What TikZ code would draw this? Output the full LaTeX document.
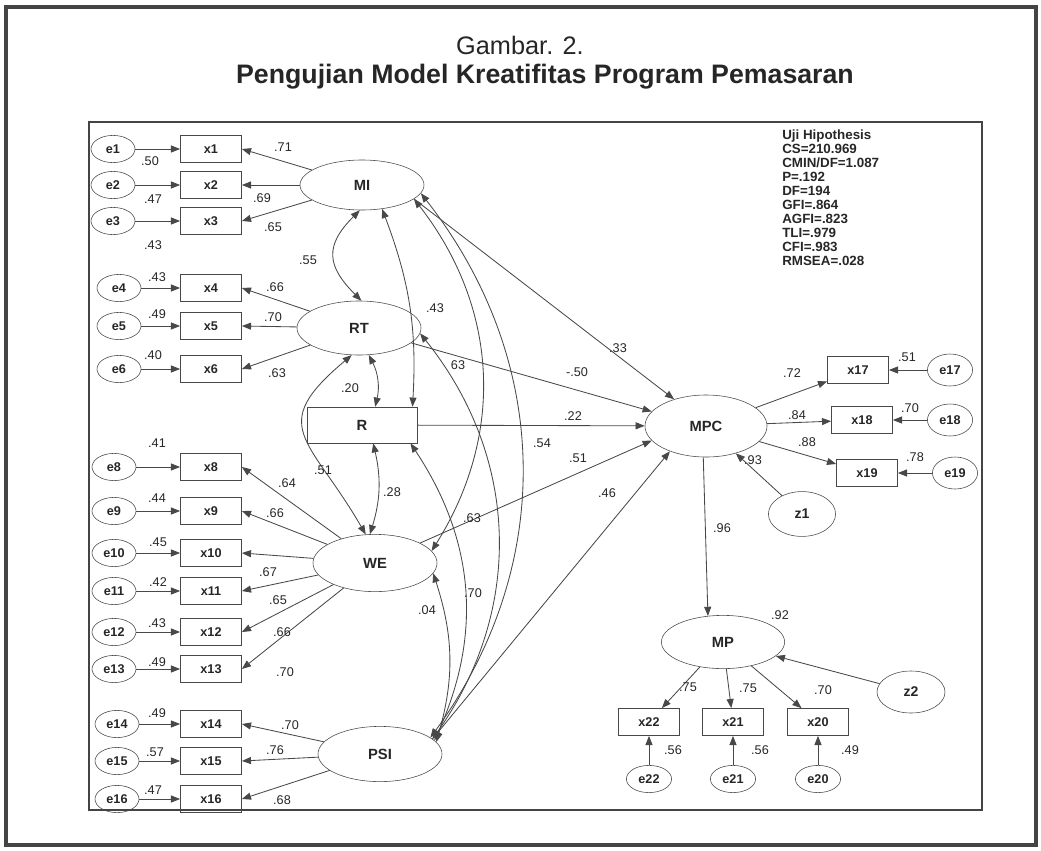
\documentclass[tikz,border=0pt]{standalone}
\usepackage{fontspec}
\setmainfont{Liberation Sans}
\usetikzlibrary{arrows.meta,shapes.geometric}
\definecolor{linegray}{HTML}{484848}
\definecolor{framegray}{HTML}{444444}
\definecolor{inkgray}{HTML}{262626}

\begin{document}
\begin{tikzpicture}[x=0.025cm, y=-0.025cm,
		every node/.style={text=inkgray},
		obs/.style={draw=linegray, rectangle, inner sep=0pt, minimum width=1.53cm, minimum height=0.68cm, font=\fontsize{9}{9}\selectfont\bfseries},
		err/.style={draw=linegray, ellipse, inner sep=0pt, minimum width=1.1cm, minimum height=0.68cm, font=\fontsize{9}{9}\selectfont\bfseries},
		latent/.style={draw=linegray, ellipse, inner sep=0pt, minimum width=3.1cm, minimum height=1.35cm, font=\fontsize{10.5}{10.5}\selectfont\bfseries},
		coef/.style={inner sep=0pt, font=\fontsize{9}{9}\selectfont},
		reg/.style={draw=linegray, line width=0.6pt, -{Triangle[length=6.5pt,width=5pt]}},
		cov/.style={reg, {Triangle[length=6.5pt,width=5pt]}-{Triangle[length=6.5pt,width=5pt]}}]
	\useasboundingbox (0,0) rectangle (1041,850);

	% frames and title
	\draw[framegray, line width=3.5pt] (6,7) rectangle (1036,845);
	\draw[framegray, line width=2pt] (89,122) rectangle (982,810);
	\node[font=\fontsize{18}{18}\selectfont] (gambar) at (520,45) {Gambar. 2.};
	\node[font=\fontsize{19}{19}\selectfont\bfseries] (judul) at (545,77) {Pengujian Model Kreatifitas Program Pemasaran};
	\node[anchor=north west, inner sep=0pt, align=left, font=\fontsize{9.5}{9.9}\selectfont\bfseries] (uji) at (782,130)
		{Uji Hipothesis\\CS=210.969\\CMIN/DF=1.087\\P=.192\\DF=194\\GFI=.864\\AGFI=.823\\TLI=.979\\CFI=.983\\RMSEA=.028};

	% latent variables
	\node[latent, minimum height=1.25cm] (MI) at (362,185) {MI};
	\node[latent] (RT) at (359,328) {RT};
	\node[draw=linegray, rectangle, inner sep=0pt, minimum width=2.75cm, minimum height=0.9cm, font=\fontsize{10.5}{10.5}\selectfont\bfseries] (R) at (362,425) {R};
	\node[latent, minimum height=1.43cm] (WE) at (375,563) {WE};
	\node[latent, minimum height=1.38cm] (PSI) at (380,754) {PSI};
	\node[latent, minimum width=3.05cm, minimum height=1.55cm] (MPC) at (706,426) {MPC};
	\node[latent, minimum width=3.08cm, minimum height=1.33cm] (MP) at (723,642) {MP};
	\node[latent, minimum width=1.68cm, minimum height=1.12cm, font=\fontsize{10}{10}\selectfont\bfseries] (z1) at (802,514) {z1};
	\node[latent, minimum width=1.7cm, minimum height=1.05cm, font=\fontsize{10}{10}\selectfont\bfseries] (z2) at (911,692) {z2};

	% indicators on the left
	\foreach \i/\ex/\y in {1/113/149, 2/113/185, 3/113/221, 4/119/288, 5/119/326, 6/119/369, 8/114/467, 9/114/511, 10/114/553, 11/114/591, 12/114/632, 13/114/669, 14/117/724, 15/117/761, 16/117/799} {
		\node[err] (e\i) at (\ex,\y) {e\i};
		\node[obs] (x\i) at (211,\y) {x\i};
		\draw[reg] (e\i) -- (x\i);
	}
	\foreach \lv/\i in {MI/1, MI/2, MI/3, RT/4, RT/5, RT/6, WE/8, WE/9, WE/10, WE/11, WE/12, WE/13, PSI/14, PSI/15, PSI/16}
		\draw[reg] (\lv) -- (x\i.east);

	% indicators on the right
	\foreach \i/\bx/\ex/\y in {17/858/950/370, 18/862/950/420, 19/867/955/473} {
		\node[obs] (x\i) at (\bx,\y) {x\i};
		\node[err, minimum width=1.13cm, minimum height=0.8cm] (e\i) at (\ex,\y) {e\i};
		\draw[reg] (e\i) -- (x\i);
		\draw[reg] (MPC) -- (x\i);
	}
	\foreach \i/\x in {22/649, 21/733, 20/818} {
		\node[obs] (x\i) at (\x,722) {x\i};
		\node[err, minimum width=1.13cm] (e\i) at (\x,779) {e\i};
		\draw[reg] (e\i) -- (x\i);
		\draw[reg] (MP) -- (x\i);
	}

	% covariances
	\draw[cov] (MI.265) to[out=225, in=135, looseness=1.4] (RT.85);
	\draw[cov] (MI.310) to[bend left=12] ([xshift=-0.12cm]R.north east);
	\draw[cov] (MI.345) to[bend left=35] (WE.12);
	\draw[cov] (MI.352) to[bend left=37] (PSI.18);
	\draw[cov] (RT.290) to[bend left=20] ([xshift=0.33cm]R.north);
	\draw[cov] (RT.255) to[out=220, in=120, looseness=1.6] (WE.108);
	\draw[cov] (RT.355) to[bend left=37] (PSI.16);
	\draw[cov] ([xshift=0.28cm]R.south) to[bend left=15] (WE.100);
	\draw[cov] ([xshift=-0.17cm]R.south east) to[bend left=29] (PSI.14);
	\draw[cov] (WE.350) to[bend left=17] (PSI.12);

	% structural paths
	\draw[reg] (MI.345) -- (MPC.140);
	\draw[reg] (RT) -- (MPC.165);
	\draw[reg] (R) -- (MPC);
	\draw[reg] (WE) -- (MPC.195);
	\draw[reg] (PSI.16) -- (MPC.215);
	\draw[reg] (z1) -- (MPC);
	\draw[reg] (MPC.265) -- (MP.120);
	\draw[reg] (z2) -- (MP);

	% estimates
	\foreach [count=\k] \x/\y/\t in {150/161/.50, 153/199/.47, 153/245/.43, 157/277/.43, 157/314/.49, 153/355/.40, 157/443/.41, 157/498/.44, 158/542/.45, 158/582/.42, 157/623/.43, 157/662/.49, 157/713/.49, 155/752/.57, 153/790/.47,
		283/147/.71, 262/198/.69, 273/227/.65, 275/287/.66, 273/317/.70, 277/373/.63, 287/483/.64, 275/513/.66, 268/572/.67, 278/600/.65, 282/632/.66, 285/672/.70, 290/725/.70, 275/750/.76, 282/800/.68,
		308/260/.55, 350/388/.20, 392/492/.28, 323/470/.51, 435/308/.43, 458/365/63, 542/443/.54, 472/518/.63, 473/593/.70, 427/610/.04,
		618/348/.33, 577/372/-.50, 573/416/.22, 578/458/.51, 607/493/.46, 753/460/.93, 722/528/.96, 780/615/.92,
		792/373/.72, 797/415/.84, 807/442/.88, 907/357/.51, 910/408/.70, 915/457/.78, 688/687/.75, 748/688/.75, 823/690/.70, 673/750/.56, 760/750/.56, 850/750/.49}
		\node[coef] (c\k) at (\x,\y) {\t};
\end{tikzpicture}
\end{document}
